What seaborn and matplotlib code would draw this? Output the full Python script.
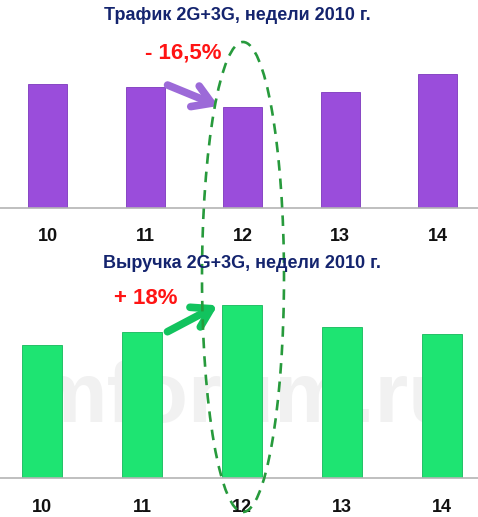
import matplotlib
matplotlib.use("Agg")
import matplotlib.pyplot as plt
from matplotlib.patches import Ellipse, FancyArrowPatch
import seaborn as sns

sns.set_style("white")
plt.rcParams['font.family'] = ['Liberation Sans', 'DejaVu Sans']

# Data (relative bar heights)
weeks = ['10', '11', '12', '13', '14']
traffic = [123.5, 120.5, 100.5, 115.5, 133.5]
revenue = [133, 146, 173, 151, 144]

title_traffic = "Трафик 2G+3G, недели 2010 г."
title_revenue = "Выручка 2G+3G, недели 2010 г."
note_traffic = "- 16,5%"
note_revenue = "+ 18%"

W, H = 478, 517
fig = plt.figure(figsize=(W / 100, H / 100), dpi=100)


def px(x, y):
    # pixel position (from top-left) -> figure fraction
    return x / W, 1 - y / H


# faint watermark behind the bars
fig.text(*px(245, 400), "mforum.ru", fontsize=62, fontweight='bold',
         color='#f1f1f1', ha='center', va='center', zorder=-5)

# top panel: traffic
ax1 = fig.add_axes([0, 1 - 207.5 / H, 1, 200 / H])
sns.barplot(x=weeks, y=traffic, color='#9a4ddb', saturation=1, width=0.4,
            edgecolor='#7d38bd', linewidth=0.6, ax=ax1)
ax1.set_xlim(-0.487, 4.411)
ax1.set_ylim(0, 200)

# bottom panel: revenue
ax2 = fig.add_axes([0, 1 - 478 / H, 1, 200 / H])
sns.barplot(x=weeks, y=revenue, color='#1ee472', saturation=1, width=0.4,
            edgecolor='#14b85a', linewidth=0.6, ax=ax2)
ax2.set_xlim(-0.42, 4.36)
ax2.set_ylim(0, 200)

for ax in (ax1, ax2):
    ax.patch.set_alpha(0)
    ax.set_xlabel('')
    ax.set_ylabel('')
    ax.set_yticks([])
    for s in ['top', 'right', 'left']:
        ax.spines[s].set_visible(False)
    ax.spines['bottom'].set_color('#b4b4b4')
    ax.spines['bottom'].set_linewidth(1.2)
    ax.tick_params(axis='x', length=0, pad=15, labelsize=13)
    for lbl in ax.get_xticklabels():
        lbl.set_fontweight('bold')
        lbl.set_color('#111111')

# titles
fig.text(*px(237, 16), title_traffic, fontsize=13, fontweight='bold',
         color='#14246e', ha='center', va='center')
fig.text(*px(242, 263), title_revenue, fontsize=13, fontweight='bold',
         color='#14246e', ha='center', va='center')

# red change notes
fig.text(*px(183, 53), note_traffic, fontsize=16, fontweight='bold',
         color='#ff1414', ha='center', va='center')
fig.text(*px(146, 298), note_revenue, fontsize=16, fontweight='bold',
         color='#ff1414', ha='center', va='center')

# arrows
arr1 = FancyArrowPatch(px(165, 84), px(221, 107), transform=fig.transFigure,
                       arrowstyle='->,head_length=13,head_width=8', mutation_scale=1,
                       lw=5.5, color='#9c6ad8', capstyle='round', joinstyle='round')
arr2 = FancyArrowPatch(px(165, 333), px(220, 304), transform=fig.transFigure,
                       arrowstyle='->,head_length=13,head_width=8', mutation_scale=1,
                       lw=5.5, color='#12c35e', capstyle='round', joinstyle='round')
fig.add_artist(arr1)
fig.add_artist(arr2)

# dashed ellipse around week 12
ell = Ellipse(px(243, 277), 82 / W, 470 / H, transform=fig.transFigure,
              fill=False, edgecolor='#279a3c', lw=1.9, linestyle=(0, (4, 3)))
fig.add_artist(ell)

fig.savefig("out.png", dpi=100)
